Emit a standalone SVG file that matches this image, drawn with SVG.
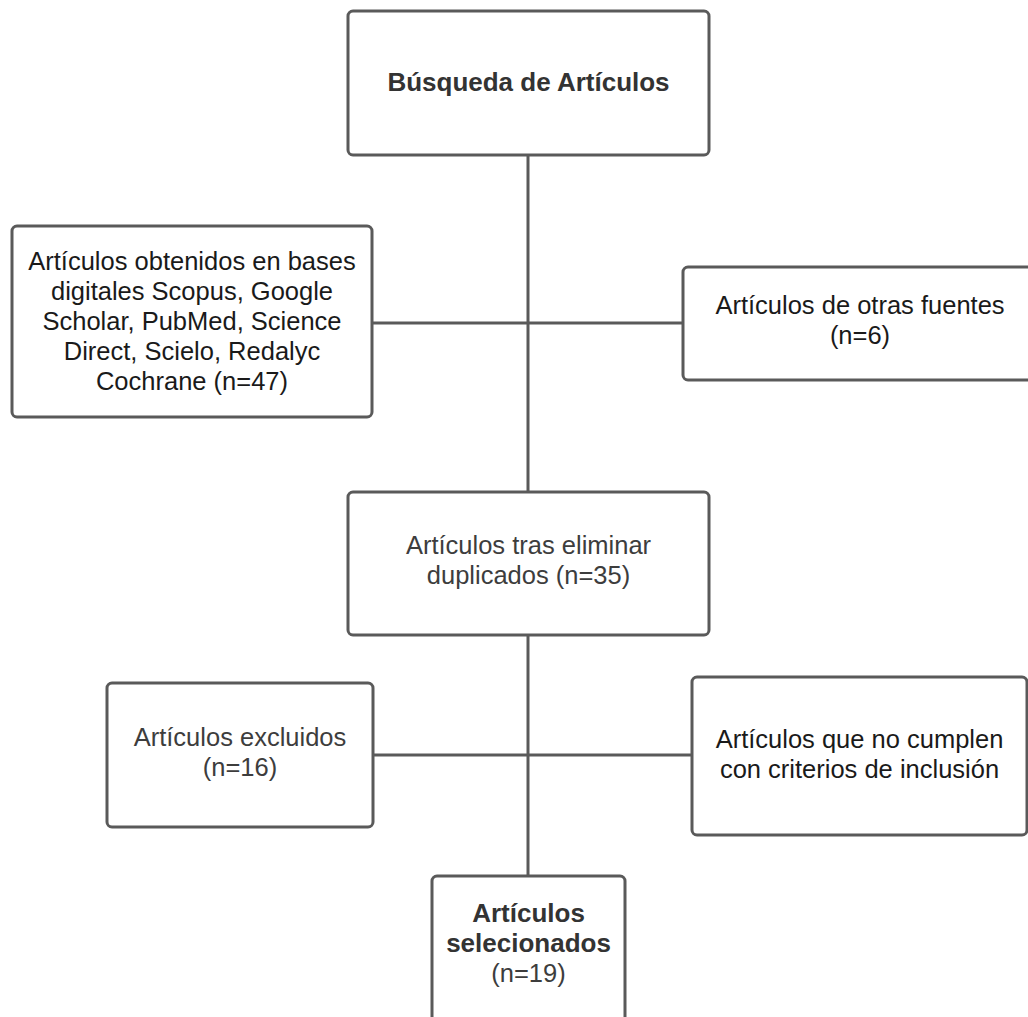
<svg xmlns="http://www.w3.org/2000/svg" width="1028" height="1017" viewBox="0 0 1028 1017">
<style>
.box{fill:#ffffff;stroke:#5a5a5a;stroke-width:3}
.ln{fill:none;stroke:#5a5a5a;stroke-width:3}
text{font-family:"Liberation Sans",Arial,sans-serif;font-size:25.5px;text-anchor:middle}
.b{font-weight:bold;fill:#333333;font-size:26px}
.k{fill:#1a1a1a}
.g{fill:#3d3d3d}
</style>
<rect width="1028" height="1017" fill="#ffffff"/>
<g id="connectors">
<path class="ln" d="M528 155 V492"/>
<path class="ln" d="M528 635 V876"/>
<path class="ln" d="M372 323 H683"/>
<path class="ln" d="M373 755 H692"/>
</g>
<g id="n1">
<rect class="box" x="348" y="11" width="361" height="144" rx="5"/>
<text class="b" x="528.5" y="91">Búsqueda de Artículos</text>
</g>
<g id="n2">
<rect class="box" x="12" y="226" width="360" height="191" rx="5"/>
<text class="k" x="192" y="270">Artículos obtenidos en bases</text>
<text class="k" x="192" y="300">digitales Scopus, Google</text>
<text class="k" x="192" y="330">Scholar, PubMed, Science</text>
<text class="k" x="192" y="360">Direct, Scielo, Redalyc</text>
<text class="k" x="192" y="390">Cochrane (n=47)</text>
</g>
<g id="n3">
<rect class="box" x="683" y="267" width="354" height="113" rx="5"/>
<text class="k" x="860" y="314">Artículos de otras fuentes</text>
<text class="k" x="860" y="344">(n=6)</text>
</g>
<g id="n4">
<rect class="box" x="348" y="492" width="361" height="143" rx="5"/>
<text class="g" x="528.5" y="554">Artículos tras eliminar</text>
<text class="g" x="528.5" y="584">duplicados (n=35)</text>
</g>
<g id="n5">
<rect class="box" x="107" y="683" width="266" height="144" rx="5"/>
<text class="g" x="240" y="746">Artículos excluidos</text>
<text class="g" x="240" y="776">(n=16)</text>
</g>
<g id="n6">
<rect class="box" x="692" y="677" width="335" height="158" rx="5"/>
<text class="k" x="859.5" y="748">Artículos que no cumplen</text>
<text class="k" x="859.5" y="778">con criterios de inclusión</text>
</g>
<g id="n7">
<rect class="box" x="432" y="876" width="193" height="160" rx="5"/>
<text class="b" x="528.5" y="922">Artículos</text>
<text class="b" x="528.5" y="952">selecionados</text>
<text class="g" x="528.5" y="982">(n=19)</text>
</g>
</svg>
